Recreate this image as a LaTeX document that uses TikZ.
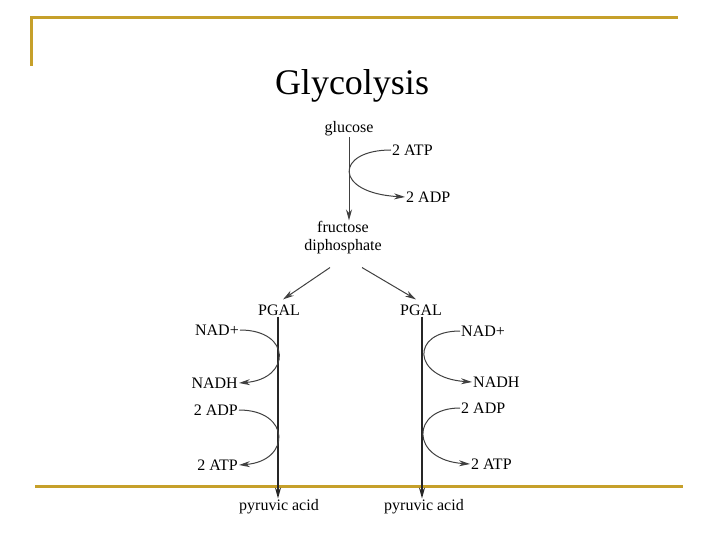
\documentclass[tikz,border=0pt]{standalone}
\usepackage{fontspec}
\setmainfont{Liberation Serif}
\usetikzlibrary{arrows.meta, positioning, calc}
\usepackage{xcolor}
\definecolor{frame}{RGB}{198,160,42}
\tikzstyle{lbl} = [inner sep=1pt, font=\fontsize{16}{18}\selectfont, align=center]
\tikzstyle{title} = [inner sep=0pt, font=\fontsize{36}{40}\selectfont]
\tikzstyle{arrow} = [line width=1pt, black!75, -{Stealth[length=11pt, width=6pt]}]
\tikzstyle{mainline} = [line width=1.4pt, black!85, -{Stealth[length=11pt, width=6pt]}]
\tikzstyle{bar} = [line width=3pt, frame]

\begin{document}
\begin{tikzpicture}[x=1pt, y=-1pt]
\useasboundingbox (0,0) rectangle (720,540);
% frame
\draw[bar] (31,66) -- (31,18) -- (678,18);
\draw[bar] (35,486) -- (683,486);

\node (title) [title] at (352,86) {Glycolysis};

% glucose -> fructose diphosphate
\node (glu) [lbl] at (349,129) {glucose};
\node (fdp) [lbl] at (343,238) {fructose\\diphosphate};
\node (atpin) [lbl, anchor=west] at (391,150) {2 ATP};
\node (adpout) [lbl, anchor=west] at (405,197) {2 ADP};

% PGAL branches
\node (pgalL) [lbl] at (279,310) {PGAL};
\node (pgalR) [lbl] at (421,310) {PGAL};
\node (pyrL) [lbl] at (279,507) {pyruvic acid};
\node (pyrR) [lbl] at (424,507) {pyruvic acid};

% left side
\node (nadL) [lbl, anchor=east] at (240,330) {NAD+};
\node (nadhL) [lbl, anchor=east] at (239,383) {NADH};
\node (adpL) [lbl, anchor=east] at (239,410) {2 ADP};
\node (atpL) [lbl, anchor=east] at (239,465) {2 ATP};

% right side
\node (nadR) [lbl, anchor=west] at (460,331) {NAD+};
\node (nadhR) [lbl, anchor=west] at (472,382) {NADH};
\node (adpR) [lbl, anchor=west] at (460,408) {2 ADP};
\node (atpR) [lbl, anchor=west] at (470,464) {2 ATP};

\draw[arrow] (glu.south) -- (glu.south |- fdp.north);
\draw[arrow] (atpin.west) .. controls +(-56,0) and +(-72,-4) .. (adpout.west);
\draw[arrow] ([shift={(-13,12)}]fdp.south) -- ([shift={(4,-4)}]pgalL.north);
\draw[arrow] ([shift={(19,12)}]fdp.south) -- ([shift={(-5,-4)}]pgalR.north);

\draw[mainline] ([xshift=-1pt]pgalL.south) -- ([xshift=-1pt]pgalL.south |- pyrL.north);
\draw[mainline] ([xshift=1pt]pgalR.south) -- ([xshift=1pt]pgalR.south |- pyrR.north);

\draw[arrow] (nadL.east) .. controls +(52,0) and +(52,-4) .. (nadhL.east);
\draw[arrow] (adpL.east) .. controls +(52,0) and +(52,-4) .. (atpL.east);
\draw[arrow] (nadR.west) .. controls +(-50,0) and +(-60,-4) .. (nadhR.west);
\draw[arrow] (adpR.west) .. controls +(-50,0) and +(-60,-4) .. (atpR.west);
\end{tikzpicture}
\end{document}
